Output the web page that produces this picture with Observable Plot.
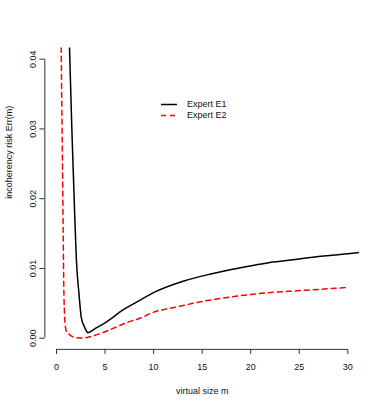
<!DOCTYPE html>
<html><head><meta charset="utf-8">
<script src="https://cdn.jsdelivr.net/npm/d3@7"></script>
<script src="https://cdn.jsdelivr.net/npm/@observablehq/plot@0.6"></script>
<style>
body{margin:0;background:#fff;}
#wrap{position:relative;width:382px;height:409px;font-family:"Liberation Sans",Arial,sans-serif;}
#legend{position:absolute;left:161px;top:99px;font-size:9px;color:#111;line-height:11px;}
.row{display:flex;align-items:center;height:11px;}
.row svg{margin-right:10px;display:block;}
</style></head><body><div id="wrap"><div id="legend"></div></div>
<script>
// ---- data ----
const xTicks = [0, 5, 10, 15, 20, 25, 30];
const yTicks = [0, 0.01, 0.02, 0.03, 0.04];
const xLabel = "virtual size m";
const yLabel = "incoherency risk Err(m)";
const seriesNames = ["Expert E1", "Expert E2"];
const seriesColors = ["#000000", "#ff0000"];
const seriesDash = [null, "5,4"];

const e1M   = [1.25, 1.34, 1.58, 1.86, 2.09, 2.30, 2.55, 2.89, 3.23, 4.0, 4.88, 7.01, 8.66, 10.1, 13.12, 15.88, 18.97, 21.72, 24.12, 25.15, 30.0, 31.3];
const e1Err = [0.046, 0.0417, 0.030, 0.0183, 0.0102, 0.0066, 0.0030, 0.0016, 0.0008, 0.0014, 0.0021, 0.0042, 0.0055, 0.0066, 0.0082, 0.0092, 0.0101, 0.0108, 0.0112, 0.0114, 0.0121, 0.0123];

const e2M   = [0.47, 0.55, 0.62, 0.69, 0.75, 0.82, 0.90, 1.05, 1.34, 1.8, 2.55, 3.92, 4.88, 7.35, 8.66, 9.93, 12.09, 15.54, 18.97, 22.4, 24.81, 30.13];
const e2Err = [0.0430, 0.0330, 0.0245, 0.0150, 0.0073, 0.0038, 0.0018, 0.0009, 0.00053, 0.00015, 0.00002, 0.0004, 0.00086, 0.0023, 0.0029, 0.0037, 0.0044, 0.0054, 0.0061, 0.0066, 0.0068, 0.0073];

// ---- build ----
const e1 = e1M.map((m, i) => ({m, err: e1Err[i]}));
const e2 = e2M.map((m, i) => ({m, err: e2Err[i]}));
const xDomain = [xTicks[0] - 0.04 * (xTicks.at(-1) - xTicks[0]), xTicks.at(-1) + 0.04 * (xTicks.at(-1) - xTicks[0])];
const yDomain = [yTicks[0] - 0.04 * (yTicks.at(-1) - yTicks[0]), yTicks.at(-1) + 0.04 * (yTicks.at(-1) - yTicks[0])];
const axisColor = "#333";

const chart = Plot.plot({
  width: 382,
  height: 409,
  marginLeft: 44.35,
  marginRight: 23.05,
  marginTop: 47.5,
  marginBottom: 60.1,
  style: {fontFamily: '"Liberation Sans", Arial, sans-serif', fontSize: "9px", color: "#111", background: "#fff"},
  x: {domain: xDomain},
  y: {domain: yDomain},
  marks: [
    Plot.ruleY([yDomain[0]], {x1: xTicks[0], x2: xTicks.at(-1), stroke: axisColor}),
    Plot.ruleX([xDomain[0]], {y1: yTicks[0], y2: yTicks.at(-1), stroke: axisColor}),
    Plot.axisX({ticks: xTicks, tickSize: 5, tickPadding: 9, label: null, stroke: axisColor}),
    Plot.axisY({ticks: yTicks, tickSize: 5, tickPadding: 4, tickRotate: -90, tickFormat: d3.format(".2f"), label: null, stroke: axisColor}),
    Plot.text([xLabel], {frameAnchor: "bottom", dy: 44.4, lineAnchor: "bottom", text: d => d, fill: "#111"}),
    Plot.text([yLabel], {frameAnchor: "left", dx: -33.3, rotate: -90, lineAnchor: "bottom", text: d => d, fill: "#111"}),
    Plot.line(e2, {x: "m", y: "err", stroke: seriesColors[1], strokeWidth: 1.5, strokeDasharray: seriesDash[1], curve: "monotone-x", clip: true}),
    Plot.line(e1, {x: "m", y: "err", stroke: seriesColors[0], strokeWidth: 1.5, curve: "monotone-x", clip: true})
  ]
});
document.getElementById("wrap").prepend(chart);

const legend = document.getElementById("legend");
seriesNames.forEach((name, i) => {
  const row = document.createElement("div");
  row.className = "row";
  const dash = seriesDash[i] ? ` stroke-dasharray="${seriesDash[i]}"` : "";
  row.innerHTML = `<svg width="16" height="11"><line x1="0" x2="16" y1="5.5" y2="5.5" stroke="${seriesColors[i]}" stroke-width="1.5"${dash}/></svg><span>${name}</span>`;
  legend.appendChild(row);
});
</script>
</body></html>
